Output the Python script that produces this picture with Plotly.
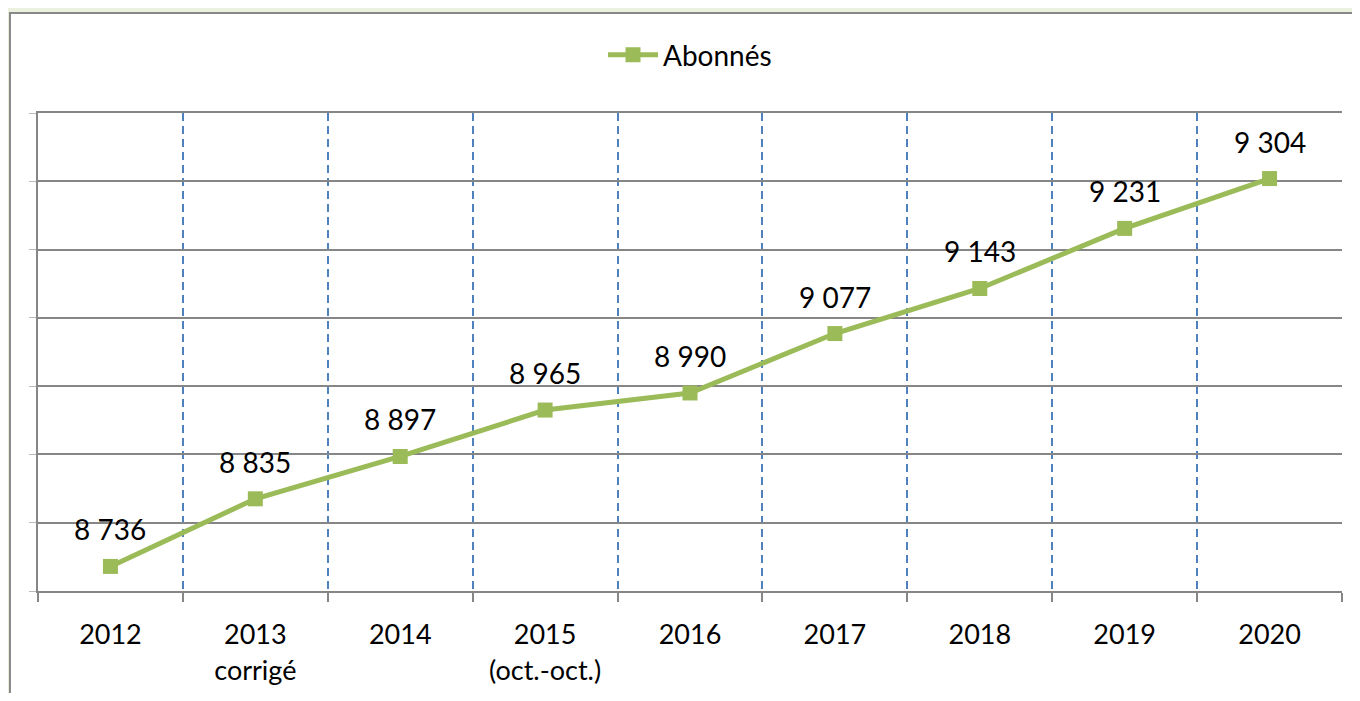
import plotly.graph_objects as go

categories = ["2012", "2013<br>corrigé", "2014", "2015<br>(oct.-oct.)", "2016",
              "2017", "2018", "2019", "2020"]
abonnes = [8736, 8835, 8897, 8965, 8990, 9077, 9143, 9231, 9304]
series_name = "Abonnés"

x_idx = list(range(len(categories)))
boundaries = [i - 0.5 for i in range(len(categories) + 1)]
labels = [f"{v:,}".replace(",", " ") for v in abonnes]

GREEN = "#9BBB59"
GRAY = "#868686"
BLUE = "#4F81BD"
FONT = "Lato"

fig = go.Figure()
fig.add_trace(go.Scatter(
    x=x_idx, y=abonnes, name=series_name, mode="lines+markers",
    line=dict(color=GREEN, width=5),
    marker=dict(symbol="square", size=15, color=GREEN),
))

for xi, yi, t in zip(x_idx, abonnes, labels):
    fig.add_annotation(x=xi, y=yi, text=t, showarrow=False, yshift=37,
                       font=dict(family=FONT, size=28, color="black"))

# outer chart frame
fig.add_shape(type="rect", xref="paper", yref="paper",
              x0=-0.0215, x1=1.2, y0=-0.6, y1=1.2092,
              fillcolor="white", line=dict(color="#888888", width=2), layer="below")

fig.update_layout(
    width=1344, height=685,
    margin=dict(l=30, r=10, t=105, b=102),
    paper_bgcolor="#EBF1DE", plot_bgcolor="white",
    font=dict(family=FONT, size=27, color="black"),
    showlegend=True,
    legend=dict(orientation="h", x=0.5, xanchor="center", y=1.121, yanchor="middle",
                itemwidth=50,
                font=dict(family=FONT, size=28, color="black"), bgcolor="rgba(0,0,0,0)"),
    xaxis=dict(
        range=[-0.5, len(categories) - 0.5], tickmode="array", tickvals=x_idx,
        ticktext=categories, ticks="", showgrid=False, zeroline=False,
        showline=True, linecolor=GRAY, linewidth=2, mirror=True,
        ticklabelstandoff=19, automargin=False,
        minor=dict(tickvals=boundaries, ticks="outside", ticklen=9, tickcolor=GRAY,
                   tickwidth=1.5, showgrid=True, gridcolor=BLUE, gridwidth=1.5,
                   griddash="8px,5px"),
        tickfont=dict(family=FONT, size=27, color="black"),
    ),
    yaxis=dict(
        range=[8700, 9400], dtick=100, tick0=8700, showticklabels=False,
        ticks="outside", ticklen=7, tickcolor="#BBBBBB", tickwidth=1,
        showgrid=True, gridcolor=GRAY, gridwidth=1.5, zeroline=False,
        showline=True, linecolor=GRAY, linewidth=2, automargin=False,
    ),
)

fig.write_html("out.html")
